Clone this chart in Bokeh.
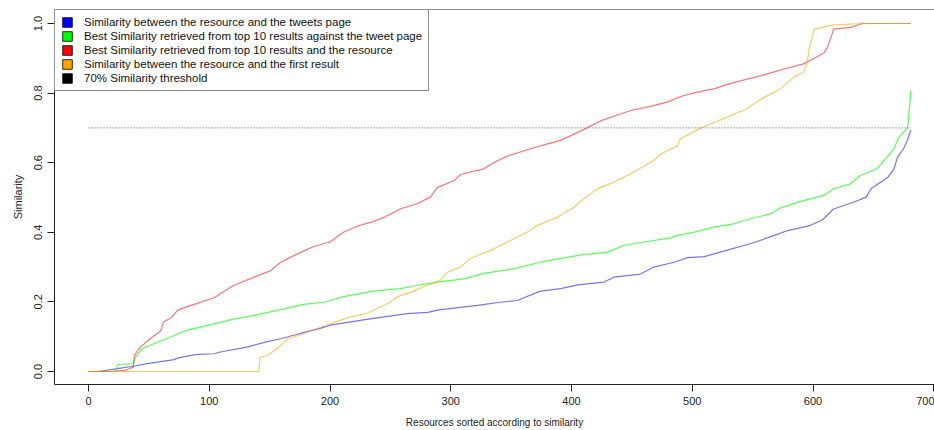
from bokeh.plotting import figure
from bokeh.models import Range1d, FixedTicker, Legend, LegendItem, Span
from bokeh.embed import file_html
from bokeh.resources import INLINE

# ---- data ----
blue_x = [0, 8, 24, 37, 51, 71, 74, 90, 104, 109, 131, 148, 159, 176, 192, 200, 233, 264, 281, 291,
          297, 322, 341, 355, 374, 391, 405, 427, 435, 457, 468, 485, 496, 510, 523, 548, 568, 579, 598, 608,
          617, 634, 644, 648, 656, 662, 667, 670, 675, 678, 681]
blue_y = [0, 0, 0.008, 0.015, 0.024, 0.034, 0.039, 0.049, 0.051, 0.056, 0.070, 0.086, 0.094, 0.110, 0.124, 0.133, 0.151, 0.166, 0.170, 0.178,
          0.180, 0.190, 0.199, 0.204, 0.231, 0.238, 0.249, 0.257, 0.271, 0.280, 0.300, 0.314, 0.327, 0.330, 0.343, 0.367, 0.391, 0.405, 0.420, 0.436,
          0.467, 0.487, 0.501, 0.525, 0.544, 0.558, 0.582, 0.616, 0.640, 0.664, 0.693]

green_x = [0, 23, 24, 37, 39, 44, 57, 68, 81, 104, 118, 137, 162, 178, 195, 211, 236, 258, 272, 288,
           311, 327, 352, 374, 396, 410, 430, 443, 460, 482, 488, 501, 518, 534, 545, 565, 573, 592, 609, 617,
           631, 639, 653, 660, 667, 671, 675, 678, 679, 681]
green_y = [0, 0, 0.020, 0.022, 0.041, 0.065, 0.084, 0.099, 0.118, 0.137, 0.149, 0.161, 0.180, 0.193, 0.199, 0.215, 0.231, 0.238, 0.247, 0.257,
           0.266, 0.282, 0.295, 0.314, 0.328, 0.336, 0.343, 0.362, 0.372, 0.384, 0.391, 0.400, 0.415, 0.424, 0.436, 0.453, 0.470, 0.491, 0.506, 0.525,
           0.539, 0.563, 0.582, 0.611, 0.640, 0.673, 0.688, 0.700, 0.721, 0.807]

red_x = [0, 18, 30, 37, 38, 42, 51, 60, 62, 69, 74, 85, 104, 120, 137, 151, 159, 167, 176, 187,
         200, 211, 223, 234, 245, 258, 272, 283, 289, 303, 308, 327, 336, 347, 366, 380, 391, 410, 424, 438,
         449, 468, 479, 493, 507, 518, 529, 543, 562, 579, 592, 601, 609, 612, 615, 617, 631, 641, 681]
red_y = [0, 0, 0.003, 0.012, 0.046, 0.067, 0.094, 0.118, 0.142, 0.156, 0.177, 0.190, 0.212, 0.247, 0.271, 0.290, 0.314, 0.328, 0.343, 0.360,
         0.372, 0.400, 0.418, 0.429, 0.443, 0.467, 0.482, 0.501, 0.529, 0.549, 0.566, 0.582, 0.601, 0.619, 0.640, 0.654, 0.664, 0.695, 0.720, 0.737,
         0.750, 0.764, 0.774, 0.793, 0.805, 0.812, 0.825, 0.838, 0.855, 0.872, 0.884, 0.900, 0.915, 0.932, 0.961, 0.984, 0.989, 1.0, 1.0]

orange_x = [0, 141, 142, 148, 156, 165, 176, 192, 200, 214, 231, 247, 258, 267, 280, 291, 297, 308, 316, 333,
            341, 363, 372, 388, 402, 410, 421, 435, 449, 468, 474, 488, 490, 507, 512, 529, 545, 557, 573, 584,
            592, 595, 597, 601, 617, 641, 681]
orange_y = [0, 0, 0.041, 0.046, 0.065, 0.094, 0.106, 0.127, 0.137, 0.154, 0.168, 0.194, 0.218, 0.228, 0.247, 0.261, 0.285, 0.300, 0.324, 0.348,
            0.362, 0.400, 0.420, 0.443, 0.472, 0.496, 0.524, 0.544, 0.568, 0.606, 0.625, 0.649, 0.668, 0.700, 0.707, 0.731, 0.755, 0.783, 0.812, 0.846,
            0.860, 0.884, 0.932, 0.984, 0.996, 1.0, 1.0]

threshold_x = [0, 681]
threshold_y = [0.7, 0.7]

x_ticks = [0, 100, 200, 300, 400, 500, 600, 700]
y_ticks = [0.0, 0.2, 0.4, 0.6, 0.8, 1.0]
y_tick_labels = ["0.0", "0.2", "0.4", "0.6", "0.8", "1.0"]

legend_labels = [
    "Similarity between the resource and the tweets page",
    "Best Similarity retrieved from top 10 results against the tweet page",
    "Best Similarity retrieved from top 10 results and the resource",
    "Similarity between the resource and the first result",
    "70% Similarity threshold",
]
legend_colors = ["#0000ff", "#00ff00", "#ff0000", "#ffa500", "#000000"]

FONT = "Liberation Sans"
INK = "#222222"

p = figure(width=934, height=430, output_backend="svg", toolbar_location=None,
           x_range=Range1d(-28.2, 700.6), y_range=Range1d(-0.0374, 1.0402),
           min_border_left=54, min_border_right=0, min_border_top=9, min_border_bottom=46,
           x_axis_label="Resources sorted according to similarity", y_axis_label="Similarity")
p.grid.visible = False
p.outline_line_color = None
p.background_fill_color = "white"
p.border_fill_color = "white"

for ax in (p.xaxis[0], p.yaxis[0]):
    ax.axis_line_color = INK
    ax.major_tick_line_color = INK
    ax.major_tick_out = 7
    ax.major_tick_in = 0
    ax.minor_tick_line_color = None
    ax.major_label_text_font = FONT
    ax.major_label_text_font_size = "11px"
    ax.major_label_text_color = INK
    ax.axis_label_text_font = FONT
    ax.axis_label_text_font_style = "normal"
    ax.axis_label_text_color = INK

p.xaxis.axis_label_text_font_size = "10px"
p.yaxis.axis_label_text_font_size = "11px"
p.xaxis.ticker = FixedTicker(ticks=x_ticks)
p.yaxis.ticker = FixedTicker(ticks=y_ticks)
p.yaxis.major_label_overrides = {t: s for t, s in zip(y_ticks, y_tick_labels)}
p.yaxis.major_label_orientation = "vertical"
p.yaxis.major_label_standoff = 5
p.yaxis.axis_label_standoff = 8
p.xaxis.major_label_standoff = 5
p.xaxis.axis_label_standoff = 9

# top edge of the plot box
p.add_layout(Span(location=1.0402, dimension="width", line_color=INK, line_width=1))

p.line(blue_x, blue_y, line_color="#0000ff", line_alpha=0.55, line_width=1.2)
p.line(green_x, green_y, line_color="#00ff00", line_alpha=0.65, line_width=1.2)
p.line(red_x, red_y, line_color="#ff0000", line_alpha=0.55, line_width=1.2)
p.line(orange_x, orange_y, line_color="#ffa500", line_alpha=0.6, line_width=1.2)
p.line(threshold_x, threshold_y, line_color="#555555", line_dash="1 2", line_width=1)

items = []
nan = float("nan")
for lab, col in zip(legend_labels, legend_colors):
    r = p.quad(left=[nan], right=[nan], top=[nan], bottom=[nan],
               fill_color=col, line_color="black", line_width=0.8)
    items.append(LegendItem(label=lab, renderers=[r]))

leg = Legend(items=items, location="top_left", margin=0, padding=6, spacing=2,
             glyph_width=12, glyph_height=12, label_standoff=11, label_height=12,
             label_text_font=FONT, label_text_font_size="11.5px", label_text_color="#111111",
             border_line_color=INK, border_line_width=1,
             background_fill_color="white", background_fill_alpha=1.0)
p.add_layout(leg, "center")

open("out.html", "w").write(file_html(p, INLINE))
